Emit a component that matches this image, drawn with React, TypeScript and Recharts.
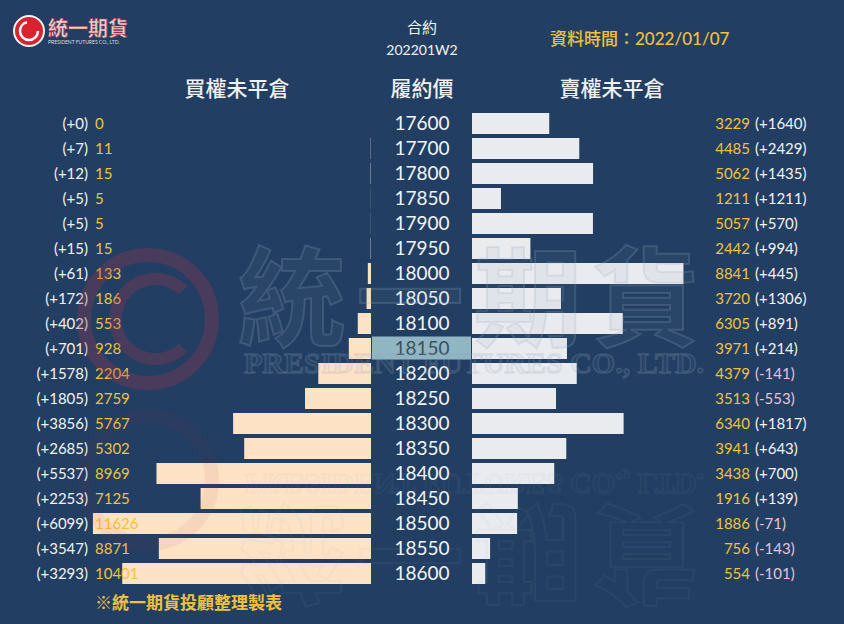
import React from 'react'
import { BarChart, Bar, XAxis, YAxis } from 'recharts'

const strikes = [
  '17600', '17700', '17800', '17850', '17900', '17950', '18000', '18050', '18100', '18150',
  '18200', '18250', '18300', '18350', '18400', '18450', '18500', '18550', '18600',
]
const callOI = [0, 11, 15, 5, 5, 15, 133, 186, 553, 928, 2204, 2759, 5767, 5302, 8969, 7125, 11626, 8871, 10401]
const callChg = [0, 7, 12, 5, 5, 15, 61, 172, 402, 701, 1578, 1805, 3856, 2685, 5537, 2253, 6099, 3547, 3293]
const putOI = [3229, 4485, 5062, 1211, 5057, 2442, 8841, 3720, 6305, 3971, 4379, 3513, 6340, 3941, 3438, 1916, 1886, 756, 554]
const putChg = [1640, 2429, 1435, 1211, 570, 994, 445, 1306, 891, 214, -141, -553, 1817, 643, 700, 139, -71, -143, -101]
const atm = '18150'

const data = strikes.map((s, i) => ({ strike: s, call: callOI[i], put: putOI[i] }))

const BG = '#223f63'
const GOLD = '#f0c23c'
const FONT = "Lato, 'Noto Sans CJK TC', sans-serif"
const fmtChg = (v: number) => `(${v >= 0 ? '+' : ''}${v})`

const CallTick = (props: any) => {
  const { y, payload } = props
  const i = strikes.indexOf(payload.value)
  return (
    <g fontFamily={FONT} fontSize={15}>
      <text x={88} y={y} dy="0.35em" textAnchor="end" fill="#f2f2f2">{fmtChg(callChg[i])}</text>
      <text x={95} y={y} dy="0.35em" textAnchor="start" fill={GOLD}>{callOI[i]}</text>
    </g>
  )
}

const StrikeTick = (props: any) => {
  const { y, payload } = props
  const hl = payload.value === atm
  return (
    <g fontFamily={FONT} fontSize={19}>
      {hl && <rect x={372} y={y - 12} width={99} height={23} fill="#8fb6c2" />}
      <text x={422} y={y} dy="0.36em" textAnchor="middle" fill={hl ? '#3d4f5e' : '#f4f4f4'}>{payload.value}</text>
    </g>
  )
}

const PutTick = (props: any) => {
  const { y, payload } = props
  const i = strikes.indexOf(payload.value)
  const c = putChg[i]
  return (
    <g fontFamily={FONT} fontSize={15}>
      <text x={278} y={y} dy="0.35em" textAnchor="end" fill={GOLD}>{putOI[i]}</text>
      <text x={283} y={y} dy="0.35em" textAnchor="start" fill={c < 0 ? '#e6c3d8' : '#f2f2f2'}>{fmtChg(c)}</text>
    </g>
  )
}

const abs = (l: number, t: number): React.CSSProperties => ({ position: 'absolute', left: l, top: t })

const App = () => {
  return (
    <div style={{ position: 'relative', width: 844, height: 624, background: BG, overflow: 'hidden', fontFamily: FONT }}>
      <style>{`body { margin: 0; }`}</style>

      {/* logo */}
      <svg style={abs(12, 14)} width={140} height={34}>
        <circle cx={17} cy={17} r={15} fill="#d9232e" stroke="#f3f3f3" strokeWidth={2} />
        <circle cx={17} cy={17} r={9} fill="none" stroke="#fff" strokeWidth={2.5} strokeDasharray="40 17" />
        <circle cx={17} cy={17} r={5} fill="#d9232e" />
        <text x={36} y={22} fontSize={20} fontWeight={700} fill="#d8d8d8" stroke="#c03040" strokeWidth={0.5} fontFamily="'Noto Sans CJK TC'">統一期貨</text>
        <text x={36} y={30} fontSize={5} fill="#ddd">PRESIDENT FUTURES CO., LTD.</text>
      </svg>

      {/* header */}
      <div style={{ ...abs(322, 17), width: 200, textAlign: 'center', color: '#f2f2f2', fontSize: 15, lineHeight: '20px' }}>合約</div>
      <div style={{ ...abs(322, 40), width: 200, textAlign: 'center', color: '#f2f2f2', fontSize: 14, lineHeight: '20px' }}>202201W2</div>
      <div style={{ ...abs(550, 28), color: GOLD, fontSize: 17, fontWeight: 500, lineHeight: '22px' }}>資料時間：2022/01/07</div>
      <div style={{ ...abs(137, 74), width: 200, textAlign: 'center', color: '#f0f0f0', fontSize: 21, fontWeight: 500, lineHeight: '28px' }}>買權未平倉</div>
      <div style={{ ...abs(322, 74), width: 200, textAlign: 'center', color: '#f0f0f0', fontSize: 21, fontWeight: 500, lineHeight: '28px' }}>履約價</div>
      <div style={{ ...abs(512, 74), width: 200, textAlign: 'center', color: '#f0f0f0', fontSize: 21, fontWeight: 500, lineHeight: '28px' }}>賣權未平倉</div>

      {/* call side + strikes */}
      <div style={abs(0, 0)}>
        <BarChart width={472} height={624} data={data} layout="vertical" margin={{ top: 111, right: 0, bottom: 38, left: 0 }}>
          <XAxis type="number" hide reversed domain={[0, 12000]} />
          <YAxis yAxisId="c" type="category" dataKey="strike" width={84} axisLine={false} tickLine={false} interval={0} tick={CallTick} />
          <YAxis yAxisId="s" type="category" dataKey="strike" orientation="right" width={101} axisLine={false} tickLine={false} interval={0} tick={StrikeTick} />
          <Bar yAxisId="c" dataKey="call" fill="#fde2c6" barSize={21} isAnimationActive={false} />
        </BarChart>
      </div>

      {/* put side */}
      <div style={abs(472, 0)}>
        <BarChart width={372} height={624} data={data} layout="vertical" margin={{ top: 111, right: 0, bottom: 38, left: 0 }}>
          <XAxis type="number" hide domain={[0, 12000]} />
          <YAxis type="category" dataKey="strike" orientation="right" width={85} axisLine={false} tickLine={false} interval={0} tick={PutTick} />
          <Bar dataKey="put" fill="#e9ebee" barSize={21} isAnimationActive={false} />
        </BarChart>
      </div>

      {/* watermark */}
      <svg style={{ ...abs(0, 0), pointerEvents: 'none' }} width={844} height={624}>
        <g opacity={0.3}>
          <circle cx={148} cy={319} r={64} fill="none" stroke="#a0344e" strokeWidth={14} />
          <path d="M 183 290 A 40 40 0 1 0 183 348" fill="none" stroke="#a0344e" strokeWidth={12} />
        </g>
        <text x={238} y={338} fontSize={108} fontWeight={700} fill="#7f93ad" fillOpacity={0.08} stroke="#9aaac0" strokeOpacity={0.22} strokeWidth={2} fontFamily="'Noto Sans CJK TC'" letterSpacing={10}>統一期貨</text>
        <text x={244} y={373} fontSize={30} fontWeight={700} fill="#8aa0bb" fillOpacity={0.08} stroke="#9aaac0" strokeOpacity={0.22} strokeWidth={1.5} fontFamily="'Liberation Serif'">PRESIDENT FUTURES CO., LTD.</text>
        <g transform="translate(0 852) scale(1 -1)" opacity={0.35}>
          <circle cx={148} cy={372} r={64} fill="none" stroke="#a0344e" strokeOpacity={0.2} strokeWidth={14} />
          <text x={244} y={378} fontSize={30} fontWeight={700} fill="none" stroke="#9aaac0" strokeOpacity={0.2} strokeWidth={1.5} fontFamily="'Liberation Serif'">PRESIDENT FUTURES CO., LTD.</text>
          <text x={238} y={338} fontSize={108} fontWeight={700} fill="none" stroke="#9aaac0" strokeOpacity={0.2} strokeWidth={2} fontFamily="'Noto Sans CJK TC'" letterSpacing={10}>統一期貨</text>
        </g>
      </svg>

      <div style={{ ...abs(95, 591), color: GOLD, fontSize: 17, fontWeight: 700, lineHeight: '24px' }}>※統一期貨投顧整理製表</div>
    </div>
  )
}

export default App
